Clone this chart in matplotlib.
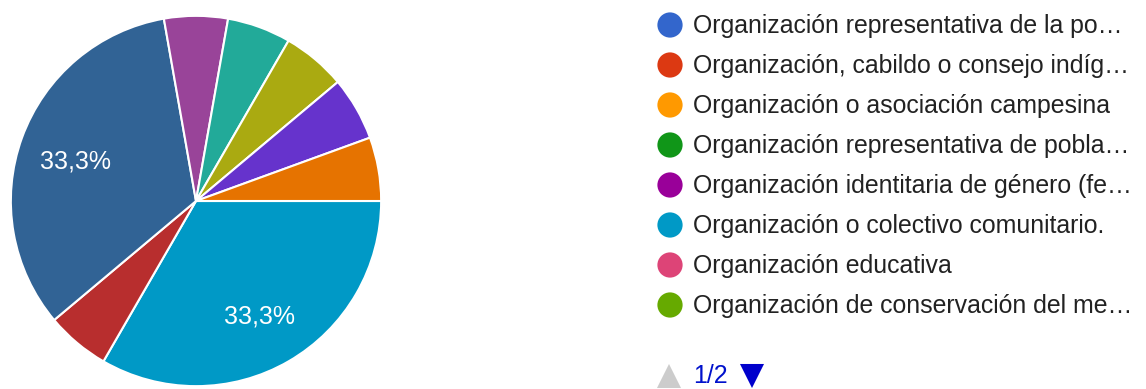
import matplotlib

matplotlib.use("Agg")
import matplotlib.pyplot as plt

# respuestas por tipo de organizacion (18 en total); orden de la paleta de Google Charts
counts = [0, 0, 0, 0, 0, 6, 0, 0, 1, 6, 1, 1, 1, 1, 1]
colors = ["#3366cc", "#dc3912", "#ff9900", "#109618", "#990099", "#0099c6",
          "#dd4477", "#66aa00", "#b82e2e", "#316395", "#994499", "#22aa99",
          "#aaaa11", "#6633cc", "#e67300"]

# leyenda, pagina 1 de 2
legend_labels = [
    "Organización representativa de la po…",
    "Organización, cabildo o consejo indíg…",
    "Organización o asociación campesina",
    "Organización representativa de pobla…",
    "Organización identitaria de género (fe…",
    "Organización o colectivo comunitario.",
    "Organización educativa",
    "Organización de conservación del me…",
]
page_text = "1/2"

W, H = 1146, 389
plt.rcParams["font.family"] = ["Liberation Sans", "DejaVu Sans"]
fig = plt.figure(figsize=(W / 100, H / 100), dpi=100)

# pastel: solo las porciones con respuestas
vals = [c for c in counts if c > 0]
cols = [col for c, col in zip(counts, colors) if c > 0]

ax = fig.add_axes([9 / W, 1 - 388 / H, 374 / W, 374 / H])
wedges, texts, autotexts = ax.pie(
    vals, colors=cols, startangle=0, counterclock=False, radius=1,
    autopct=lambda p: f"{p:.1f}%".replace(".", ",") if p > 10 else "",
    pctdistance=0.69,
    wedgeprops=dict(edgecolor="white", linewidth=1.5),
    textprops=dict(color="white", fontsize=18),
)
for t in autotexts:
    t.set_y(t.get_position()[1] - 0.025)
ax.set_xlim(-1.01, 1.01)
ax.set_ylim(-1.01, 1.01)
ax.set_aspect("equal")
ax.axis("off")

# capa de leyenda en coordenadas de pixel
lg = fig.add_axes([0, 0, 1, 1])
lg.set_xlim(0, W)
lg.set_ylim(H, 0)
lg.axis("off")

y0, step = 25, 40
for i, label in enumerate(legend_labels):
    y = y0 + i * step
    lg.scatter([670], [y], s=330, color=colors[i], edgecolors="none")
    lg.text(693, y + 1, label, fontsize=17.9, color="#222222", va="center", ha="left")

ypg = 376
lg.scatter([669], [ypg], s=300, marker="^", color="#cccccc", edgecolors="none")
lg.text(693, ypg, page_text, fontsize=17.9, color="#0011cc", va="center", ha="left")
lg.scatter([752], [ypg], s=300, marker="v", color="#0000cc", edgecolors="none")

fig.savefig("out.png", dpi=100)
